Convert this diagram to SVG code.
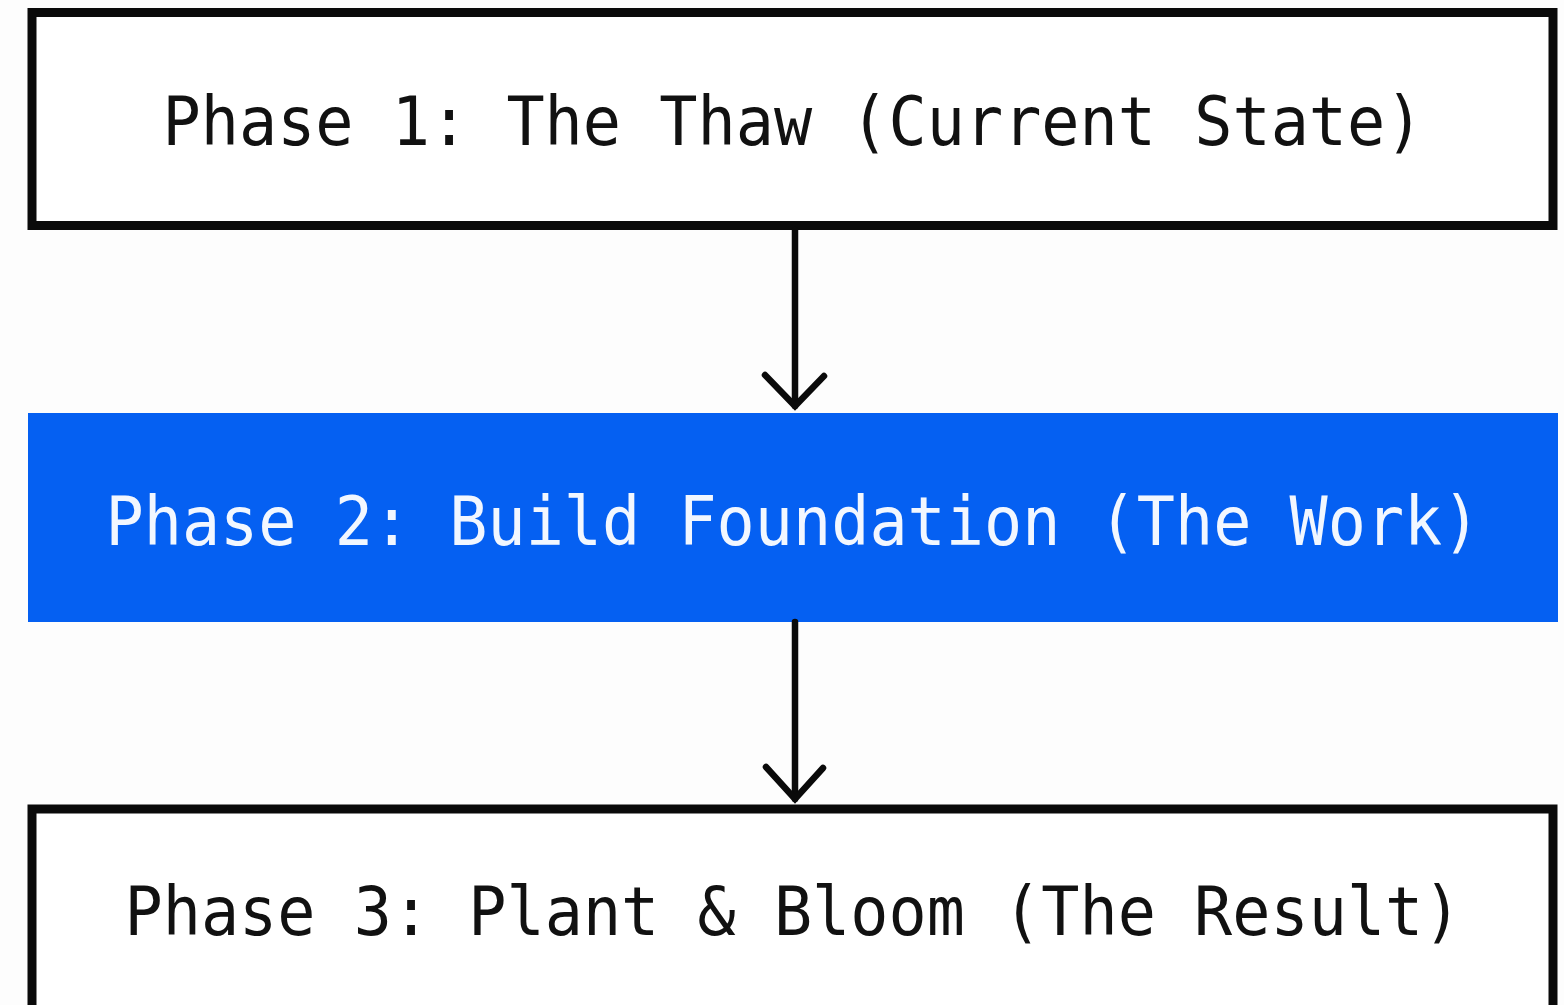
<svg xmlns="http://www.w3.org/2000/svg" width="1564" height="1005" viewBox="0 0 1564 1005">
  <style>
    .box { fill: #ffffff; stroke: #0a0a0a; stroke-width: 9; }
    .box-hl { fill: #0560f2; }
    .label { font-family: "DejaVu Sans Mono", "Liberation Mono", monospace; font-size: 68px; text-anchor: middle; }
    .dark { fill: #111111; }
    .light { fill: #f2f7ff; }
    .edge { fill: none; stroke: #0a0a0a; stroke-width: 6.5; stroke-linecap: round; stroke-linejoin: miter; }
  </style>
  <rect width="1564" height="1005" fill="#fdfdfd"/>

  <g id="phase1">
    <rect class="box" x="32" y="12.5" width="1521" height="213"/>
    <text class="label dark" x="793" y="145" textLength="1261" lengthAdjust="spacingAndGlyphs">Phase 1: The Thaw (Current State)</text>
  </g>

  <g id="phase2">
    <rect class="box-hl" x="28" y="413" width="1530" height="209"/>
    <text class="label light" x="793" y="545" textLength="1375" lengthAdjust="spacingAndGlyphs">Phase 2: Build Foundation (The Work)</text>
  </g>

  <g id="phase3">
    <rect class="box" x="32" y="809" width="1521" height="220"/>
    <text class="label dark" x="793" y="935" textLength="1337" lengthAdjust="spacingAndGlyphs">Phase 3: Plant &amp; Bloom (The Result)</text>
  </g>

  <g id="connectors">
    <path class="edge" d="M795 230 V406"/>
    <path class="edge" d="M765 375 L795 406 L824 376"/>
    <path class="edge" d="M795 622 V799"/>
    <path class="edge" d="M766 767 L795 799 L823 768"/>
  </g>
</svg>
